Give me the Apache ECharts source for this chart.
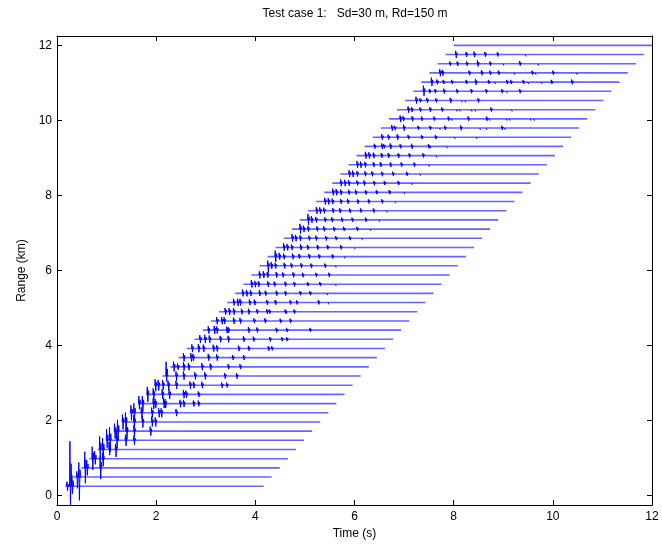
<!DOCTYPE html>
<html>
<head>
<meta charset="utf-8">
<script src="https://cdn.jsdelivr.net/npm/echarts@6/dist/echarts.min.js"></script>
<style>
  html, body { margin: 0; padding: 0; background: #fff; }
  #chart { width: 662px; height: 550px; }
</style>
</head>
<body>
<div id="chart"></div>
<script>
// Receiver ranges (km) of the stacked time series, bottom to top
const ranges = [
  0.250, 0.495, 0.740, 0.984, 1.229, 1.474, 1.719, 1.964, 2.208, 2.453,
  2.698, 2.943, 3.188, 3.432, 3.677, 3.922, 4.167, 4.411, 4.656, 4.901,
  5.146, 5.391, 5.635, 5.880, 6.125, 6.370, 6.615, 6.859, 7.104, 7.349,
  7.594, 7.839, 8.083, 8.328, 8.573, 8.818, 9.063, 9.307, 9.552, 9.797,
  10.042, 10.286, 10.531, 10.776, 11.021, 11.266, 11.510, 11.755, 12.000
];

// First sample time of each trace (s)
const startTimes = [
  0.167, 0.330, 0.493, 0.656, 0.819, 0.983, 1.146, 1.309, 1.472, 1.635,
  1.799, 1.962, 2.125, 2.288, 2.451, 2.615, 2.778, 2.941, 3.104, 3.267,
  3.431, 3.594, 3.757, 3.920, 4.083, 4.247, 4.410, 4.573, 4.736, 4.899,
  5.063, 5.226, 5.389, 5.552, 5.715, 5.879, 6.042, 6.205, 6.368, 6.531,
  6.695, 6.858, 7.021, 7.184, 7.347, 7.510, 7.674, 7.837, 8.000
];

// Last sample time of each trace (s)
const endTimes = [
  4.167, 4.330, 4.493, 4.656, 4.819, 4.983, 5.146, 5.309, 5.472, 5.635,
  5.799, 5.962, 6.125, 6.288, 6.451, 6.615, 6.778, 6.941, 7.104, 7.267,
  7.431, 7.594, 7.757, 7.920, 8.083, 8.247, 8.410, 8.573, 8.736, 8.899,
  9.063, 9.226, 9.389, 9.552, 9.715, 9.879, 10.042, 10.205, 10.368, 10.531,
  10.695, 10.858, 11.021, 11.184, 11.347, 11.510, 11.674, 11.837, 12.000
];

// Arrivals on each trace: [time (s), upward swing (km), downward swing (km)]
const arrivals = [
  [[0.20, 0.12, 0.12], [0.26, 1.20, 0.70], [0.30, 0.30, 0.20]],
  [[0.40, 0.15, 0.30], [0.44, 0.39, 0.62]],
  [[0.56, 0.43, 0.41], [0.60, 0.20, 0.20], [0.87, 0.30, 0.30]],
  [[0.71, 0.32, 0.30], [0.76, 0.20, 0.15], [0.92, 0.15, 0.20]],
  [[0.86, 0.35, 0.25], [0.92, 0.30, 0.30], [1.05, 0.20, 0.15], [1.18, 0.15, 0.20]],
  [[1.00, 0.30, 0.20], [1.06, 0.35, 0.30], [1.20, 0.25, 0.20], [1.38, 0.15, 0.15], [1.55, 0.12, 0.12]],
  [[1.16, 0.20, 0.20], [1.22, 0.30, 0.25], [1.40, 0.20, 0.20], [1.55, 0.15, 0.15], [1.88, 0.12, 0.12]],
  [[1.32, 0.20, 0.20], [1.38, 0.25, 0.25], [1.55, 0.18, 0.15], [1.72, 0.15, 0.15], [1.91, 0.14, 0.12], [1.98, 0.12, 0.12]],
  [[1.49, 0.20, 0.20], [1.55, 0.25, 0.20], [1.70, 0.15, 0.15], [1.91, 0.14, 0.14], [2.05, 0.12, 0.12], [2.10, 0.12, 0.12], [2.40, 0.10, 0.09]],
  [[1.65, 0.20, 0.15], [1.72, 0.20, 0.20], [1.94, 0.14, 0.14], [1.98, 0.12, 0.12], [2.15, 0.14, 0.12], [2.18, 0.12, 0.12], [2.48, 0.10, 0.10], [2.55, 0.10, 0.09], [2.75, 0.08, 0.08], [2.85, 0.08, 0.07]],
  [[1.82, 0.20, 0.20], [1.94, 0.16, 0.16], [2.12, 0.14, 0.12], [2.26, 0.14, 0.12], [2.55, 0.12, 0.10], [2.60, 0.10, 0.09], [2.85, 0.08, 0.07]],
  [[1.98, 0.16, 0.16], [2.04, 0.14, 0.14], [2.13, 0.14, 0.12], [2.24, 0.12, 0.12], [2.40, 0.12, 0.10], [2.68, 0.10, 0.09], [2.75, 0.09, 0.08], [2.92, 0.09, 0.08], [3.32, 0.07, 0.07], [3.42, 0.07, 0.06]],
  [[2.20, 0.38, 0.15], [2.40, 0.12, 0.12], [2.55, 0.12, 0.10], [2.78, 0.10, 0.09], [2.98, 0.10, 0.09], [3.38, 0.08, 0.07], [3.62, 0.08, 0.07]],
  [[2.35, 0.14, 0.12], [2.43, 0.09, 0.08], [2.55, 0.12, 0.10], [2.65, 0.10, 0.09], [2.92, 0.10, 0.09], [3.09, 0.09, 0.08], [3.45, 0.07, 0.06], [3.69, 0.07, 0.06]],
  [[2.55, 0.12, 0.10], [2.70, 0.12, 0.10], [2.74, 0.10, 0.09], [3.05, 0.10, 0.08], [3.22, 0.09, 0.08], [3.54, 0.07, 0.06], [3.76, 0.07, 0.06]],
  [[2.72, 0.11, 0.10], [2.85, 0.12, 0.10], [2.95, 0.10, 0.09], [3.15, 0.10, 0.08], [3.22, 0.09, 0.08], [3.66, 0.08, 0.07], [3.86, 0.07, 0.06], [4.26, 0.06, 0.06], [4.33, 0.06, 0.05]],
  [[2.88, 0.11, 0.10], [2.98, 0.12, 0.10], [3.07, 0.10, 0.09], [3.29, 0.09, 0.08], [3.45, 0.09, 0.08], [3.76, 0.08, 0.07], [3.96, 0.07, 0.06], [4.29, 0.06, 0.06], [4.53, 0.06, 0.05], [4.63, 0.06, 0.05]],
  [[3.05, 0.10, 0.09], [3.17, 0.11, 0.10], [3.22, 0.10, 0.09], [3.42, 0.09, 0.08], [3.45, 0.08, 0.07], [3.86, 0.08, 0.07], [4.03, 0.07, 0.06], [4.42, 0.06, 0.06], [4.63, 0.06, 0.05], [5.10, 0.06, 0.05]],
  [[3.22, 0.10, 0.09], [3.32, 0.10, 0.09], [3.37, 0.10, 0.08], [3.56, 0.09, 0.08], [3.69, 0.08, 0.07], [3.97, 0.07, 0.06], [4.19, 0.07, 0.06], [4.50, 0.06, 0.05], [4.70, 0.06, 0.05]],
  [[3.39, 0.10, 0.08], [3.47, 0.10, 0.09], [3.56, 0.10, 0.08], [3.72, 0.08, 0.07], [3.86, 0.08, 0.07], [4.03, 0.07, 0.06], [4.23, 0.07, 0.06], [4.28, 0.06, 0.05], [4.60, 0.06, 0.05], [4.63, 0.05, 0.05], [4.78, 0.06, 0.05]],
  [[3.56, 0.10, 0.08], [3.64, 0.10, 0.09], [3.69, 0.10, 0.08], [3.88, 0.08, 0.07], [3.98, 0.08, 0.07], [4.23, 0.07, 0.06], [4.40, 0.07, 0.06], [4.70, 0.06, 0.05], [4.83, 0.06, 0.05], [5.27, 0.06, 0.05], [5.47, 0.05, 0.05]],
  [[3.74, 0.10, 0.08], [3.82, 0.09, 0.08], [3.90, 0.08, 0.07], [4.08, 0.08, 0.07], [4.20, 0.07, 0.06], [4.42, 0.07, 0.06], [4.60, 0.06, 0.06], [4.90, 0.06, 0.05], [5.10, 0.06, 0.05], [5.45, 0.05, 0.05]],
  [[3.92, 0.11, 0.09], [3.99, 0.09, 0.08], [4.06, 0.08, 0.07], [4.25, 0.08, 0.07], [4.38, 0.07, 0.06], [4.60, 0.07, 0.06], [4.78, 0.06, 0.06], [5.05, 0.06, 0.05], [5.30, 0.06, 0.05], [5.62, 0.05, 0.05]],
  [[4.08, 0.10, 0.09], [4.16, 0.10, 0.08], [4.24, 0.08, 0.07], [4.42, 0.08, 0.07], [4.55, 0.07, 0.06], [4.76, 0.07, 0.06], [4.95, 0.06, 0.06], [5.22, 0.06, 0.05], [5.48, 0.06, 0.05]],
  [[4.25, 0.14, 0.18], [4.32, 0.10, 0.08], [4.40, 0.08, 0.07], [4.58, 0.08, 0.07], [4.72, 0.07, 0.06], [4.92, 0.07, 0.06], [5.12, 0.06, 0.06], [5.40, 0.06, 0.05], [5.62, 0.05, 0.05]],
  [[4.40, 0.16, 0.14], [4.48, 0.10, 0.08], [4.57, 0.08, 0.07], [4.75, 0.08, 0.07], [4.88, 0.07, 0.06], [5.08, 0.07, 0.06], [5.28, 0.06, 0.05], [5.55, 0.06, 0.05], [5.80, 0.05, 0.05]],
  [[4.57, 0.11, 0.09], [4.64, 0.09, 0.08], [4.73, 0.08, 0.07], [4.91, 0.08, 0.07], [5.05, 0.07, 0.06], [5.25, 0.07, 0.06], [5.45, 0.06, 0.05], [5.72, 0.06, 0.05], [6.00, 0.05, 0.05]],
  [[4.74, 0.11, 0.09], [4.81, 0.09, 0.08], [4.90, 0.08, 0.07], [5.08, 0.07, 0.06], [5.22, 0.07, 0.06], [5.42, 0.06, 0.06], [5.62, 0.06, 0.05], [5.90, 0.06, 0.05], [6.15, 0.05, 0.05]],
  [[4.90, 0.14, 0.12], [4.97, 0.09, 0.08], [5.06, 0.08, 0.07], [5.24, 0.07, 0.06], [5.38, 0.07, 0.06], [5.58, 0.06, 0.06], [5.78, 0.06, 0.05], [6.05, 0.06, 0.05], [6.32, 0.05, 0.05]],
  [[5.06, 0.16, 0.14], [5.13, 0.10, 0.08], [5.22, 0.08, 0.07], [5.40, 0.07, 0.06], [5.54, 0.07, 0.06], [5.74, 0.06, 0.06], [5.95, 0.06, 0.05], [6.22, 0.06, 0.05], [6.50, 0.05, 0.05]],
  [[5.23, 0.10, 0.08], [5.30, 0.09, 0.08], [5.38, 0.08, 0.07], [5.56, 0.07, 0.06], [5.70, 0.07, 0.06], [5.90, 0.06, 0.06], [6.12, 0.06, 0.05], [6.38, 0.06, 0.05], [6.65, 0.05, 0.05]],
  [[5.40, 0.10, 0.08], [5.47, 0.09, 0.08], [5.55, 0.08, 0.07], [5.72, 0.07, 0.06], [5.86, 0.07, 0.06], [6.06, 0.06, 0.06], [6.28, 0.06, 0.05], [6.55, 0.06, 0.05], [6.82, 0.05, 0.05]],
  [[5.56, 0.10, 0.08], [5.63, 0.09, 0.08], [5.72, 0.08, 0.07], [5.88, 0.07, 0.06], [6.02, 0.07, 0.06], [6.22, 0.06, 0.06], [6.44, 0.06, 0.05], [6.70, 0.06, 0.05], [7.00, 0.05, 0.05]],
  [[5.72, 0.10, 0.08], [5.80, 0.09, 0.08], [5.88, 0.08, 0.07], [6.05, 0.07, 0.06], [6.19, 0.07, 0.06], [6.39, 0.06, 0.06], [6.60, 0.06, 0.05], [6.88, 0.06, 0.05], [7.15, 0.05, 0.05]],
  [[5.89, 0.10, 0.08], [5.96, 0.09, 0.08], [6.05, 0.08, 0.07], [6.21, 0.07, 0.06], [6.35, 0.07, 0.06], [6.55, 0.06, 0.06], [6.77, 0.06, 0.05], [7.05, 0.06, 0.05], [7.32, 0.05, 0.05]],
  [[6.05, 0.10, 0.08], [6.12, 0.09, 0.08], [6.21, 0.08, 0.07], [6.38, 0.07, 0.06], [6.52, 0.07, 0.06], [6.72, 0.06, 0.06], [6.94, 0.06, 0.05], [7.20, 0.06, 0.05], [7.50, 0.05, 0.05]],
  [[6.22, 0.10, 0.08], [6.29, 0.09, 0.08], [6.38, 0.08, 0.07], [6.54, 0.07, 0.06], [6.68, 0.07, 0.06], [6.88, 0.06, 0.06], [7.10, 0.06, 0.05], [7.38, 0.06, 0.05], [7.65, 0.05, 0.05]],
  [[6.40, 0.07, 0.06], [6.55, 0.08, 0.07], [6.59, 0.06, 0.05], [6.72, 0.08, 0.07], [6.92, 0.06, 0.05], [7.15, 0.07, 0.06], [7.49, 0.06, 0.05], [7.53, 0.05, 0.05], [7.86, 0.05, 0.05]],
  [[6.55, 0.08, 0.07], [6.68, 0.07, 0.06], [6.86, 0.08, 0.07], [7.08, 0.06, 0.05], [7.35, 0.06, 0.05], [7.63, 0.06, 0.05], [8.02, 0.05, 0.05], [8.46, 0.05, 0.05]],
  [[6.75, 0.08, 0.07], [6.81, 0.06, 0.06], [6.99, 0.09, 0.07], [7.28, 0.06, 0.05], [7.52, 0.06, 0.05], [7.72, 0.05, 0.05], [7.82, 0.06, 0.05], [8.14, 0.07, 0.06], [8.53, 0.05, 0.05], [8.66, 0.05, 0.05], [8.97, 0.06, 0.05], [9.03, 0.05, 0.05]],
  [[6.92, 0.09, 0.08], [6.98, 0.07, 0.06], [7.16, 0.07, 0.06], [7.35, 0.06, 0.05], [7.60, 0.06, 0.05], [7.89, 0.06, 0.05], [7.96, 0.05, 0.05], [8.29, 0.06, 0.05], [8.66, 0.06, 0.05], [8.72, 0.05, 0.05], [9.07, 0.05, 0.05], [9.13, 0.05, 0.05], [9.55, 0.05, 0.05], [9.62, 0.05, 0.05]],
  [[7.08, 0.09, 0.08], [7.15, 0.07, 0.06], [7.32, 0.06, 0.05], [7.52, 0.07, 0.06], [7.76, 0.06, 0.05], [8.06, 0.05, 0.05], [8.12, 0.05, 0.05], [8.36, 0.05, 0.05], [8.43, 0.05, 0.05], [8.75, 0.06, 0.05], [9.17, 0.05, 0.05]],
  [[7.24, 0.10, 0.08], [7.32, 0.06, 0.05], [7.46, 0.07, 0.06], [7.64, 0.06, 0.05], [7.93, 0.07, 0.06], [8.16, 0.05, 0.05], [8.23, 0.05, 0.05], [8.49, 0.06, 0.05]],
  [[7.39, 0.15, 0.12], [7.51, 0.06, 0.05], [7.62, 0.06, 0.05], [7.80, 0.07, 0.06], [8.06, 0.06, 0.05], [8.35, 0.06, 0.05], [8.65, 0.06, 0.05], [8.97, 0.06, 0.05], [9.07, 0.05, 0.05], [9.33, 0.06, 0.05]],
  [[7.55, 0.12, 0.10], [7.66, 0.07, 0.06], [7.79, 0.06, 0.05], [7.96, 0.06, 0.05], [8.25, 0.06, 0.05], [8.44, 0.08, 0.07], [8.70, 0.06, 0.05], [8.83, 0.05, 0.05], [9.07, 0.06, 0.05], [9.15, 0.06, 0.05], [9.40, 0.06, 0.05], [9.50, 0.05, 0.05], [9.77, 0.05, 0.05], [9.97, 0.06, 0.05], [10.38, 0.07, 0.06]],
  [[7.72, 0.10, 0.09], [7.77, 0.08, 0.07], [8.31, 0.06, 0.06], [8.56, 0.07, 0.06], [8.73, 0.06, 0.05], [8.90, 0.06, 0.05], [9.22, 0.05, 0.05], [9.58, 0.06, 0.05], [9.65, 0.05, 0.05], [10.00, 0.06, 0.05], [10.48, 0.05, 0.05]],
  [[7.92, 0.06, 0.05], [8.07, 0.06, 0.06], [8.26, 0.06, 0.05], [8.48, 0.09, 0.07], [8.73, 0.06, 0.05], [9.00, 0.05, 0.05], [9.33, 0.07, 0.05], [9.70, 0.05, 0.05]],
  [[8.04, 0.10, 0.09], [8.25, 0.07, 0.06], [8.41, 0.08, 0.07], [8.63, 0.07, 0.06], [8.88, 0.06, 0.05], [9.45, 0.05, 0.05]],
  []
];

const xTicks = [0, 2, 4, 6, 8, 10, 12];
const yTicks = [0, 2, 4, 6, 8, 10, 12];

const title = 'Test case 1:   Sd=30 m, Rd=150 m';
const xName = 'Time (s)';
const yName = 'Range (km)';

// Flat part of every trace, from its first to its last sample.
function baselinePoints() {
  const pts = [];
  ranges.forEach(function (r, i) {
    pts.push([startTimes[i], r], [endTimes[i], r], null);
  });
  return pts;
}

// Short oscillation drawn at every arrival, each one a separate piece.
function arrivalPoints() {
  const pts = [];
  ranges.forEach(function (r, i) {
    arrivals[i].forEach(function (a) {
      const t = a[0], up = a[1], down = a[2];
      pts.push([t - 0.006, r]);
      pts.push([t, r + up]);
      pts.push([t + 0.012, r - down]);
      pts.push([t + 0.024, r + up * 0.5]);
      pts.push([t + 0.034, r]);
      pts.push(null);
    });
  });
  return pts;
}

const lineBase = {
  type: 'line',
  showSymbol: false,
  symbol: 'none',
  silent: true,
  animation: false,
  connectNulls: false,
  clip: true
};

const series = [
  Object.assign({}, lineBase, {
    data: baselinePoints(),
    lineStyle: { color: '#6464ff', width: 1.6 }
  }),
  Object.assign({}, lineBase, {
    data: arrivalPoints(),
    lineStyle: { color: '#0000ff', width: 1 }
  })
];

const font = 'Liberation Sans, Arial, Helvetica, sans-serif';
const tickStyle = { color: '#000', width: 1 };

const chart = echarts.init(document.getElementById('chart'), null, { renderer: 'canvas' });
chart.setOption({
  animation: false,
  backgroundColor: '#fff',
  graphic: [{
    type: 'text',
    x: 355,
    y: 14,
    style: {
      text: title,
      fill: '#000',
      font: '12px ' + font,
      textAlign: 'center',
      textVerticalAlign: 'middle'
    }
  }],
  grid: { left: 57, right: 10, top: 36, bottom: 45, containLabel: false },
  xAxis: [{
    type: 'value', min: 0, max: 12, interval: 2, position: 'bottom',
    axisLine: { show: true, onZero: false, lineStyle: tickStyle },
    axisTick: { show: true, inside: true, length: 5, lineStyle: tickStyle, customValues: xTicks },
    axisLabel: { color: '#000', fontSize: 12, fontFamily: font, margin: 6, customValues: xTicks },
    splitLine: { show: false },
    name: xName, nameLocation: 'middle', nameGap: 15,
    nameTextStyle: { color: '#000', fontSize: 12, fontFamily: font }
  }, {
    type: 'value', min: 0, max: 12, interval: 2, position: 'top',
    axisLine: { show: true, onZero: false, lineStyle: tickStyle },
    axisTick: { show: true, inside: true, length: 5, lineStyle: tickStyle, customValues: xTicks },
    axisLabel: { show: false },
    splitLine: { show: false }
  }],
  yAxis: [{
    type: 'value', min: -0.25, max: 12.25, position: 'left',
    axisLine: { show: true, onZero: false, lineStyle: tickStyle },
    axisTick: { show: true, inside: true, length: 5, lineStyle: tickStyle, customValues: yTicks },
    axisLabel: { color: '#000', fontSize: 12, fontFamily: font, margin: 5, customValues: yTicks },
    splitLine: { show: false },
    name: yName, nameLocation: 'middle', nameGap: 28, nameRotate: 90,
    nameTextStyle: { color: '#000', fontSize: 12, fontFamily: font }
  }, {
    type: 'value', min: -0.25, max: 12.25, position: 'right',
    axisLine: { show: true, onZero: false, lineStyle: tickStyle },
    axisTick: { show: true, inside: true, length: 5, lineStyle: tickStyle, customValues: yTicks },
    axisLabel: { show: false },
    splitLine: { show: false }
  }],
  series: series
});
</script>
</body>
</html>
